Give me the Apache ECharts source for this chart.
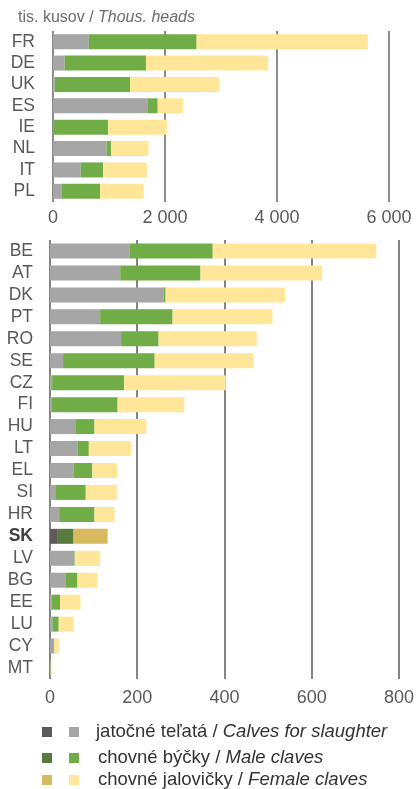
<!DOCTYPE html>
<html>
<head>
<meta charset="utf-8">
<script src="https://cdn.jsdelivr.net/npm/echarts@6/dist/echarts.min.js"></script>
<style>
  html, body { margin: 0; padding: 0; background: #fff; }
  #chart { width: 417px; height: 789px; }
</style>
</head>
<body>
<div id="chart"></div>
<script>
// horní panel (tis. kusov)
var countriesTop = ['FR', 'DE', 'UK', 'ES', 'IE', 'NL', 'IT', 'PL'];
var slaughterTop = [640, 210, 30, 1695, 12, 955, 495, 160];
var maleTop = [1925, 1450, 1345, 175, 970, 80, 400, 680];
var femaleTop = [3055, 2180, 1595, 450, 1050, 670, 785, 780];
var ticksTop = [0, 2000, 4000, 6000];

// dolný panel
var countriesBottom = ['BE', 'AT', 'DK', 'PT', 'RO', 'SE', 'CZ', 'FI', 'HU', 'LT',
  'EL', 'SI', 'HR', 'SK', 'LV', 'BG', 'EE', 'LU', 'CY', 'MT'];
var slaughterBottom = [183, 161, 260, 115, 163, 30, 5, 3, 58, 64, 54, 12, 21, 18, 56, 35, 4, 6, 9, 0.5];
var maleBottom = [190, 184, 5, 166, 86, 210, 165, 152, 44, 25, 43, 70, 81, 36, 1, 28, 19, 14, 1, 1];
var femaleBottom = [375, 279, 274, 229, 225, 227, 233, 153, 119, 97, 57, 71, 46, 78, 58, 46, 47, 34, 11, 2];
var ticksBottom = [0, 200, 400, 600, 800];

var legendNames = [
  ['jatočné teľatá / ', 'Calves for slaughter'],
  ['chovné býčky / ', 'Male claves'],
  ['chovné jalovičky / ', 'Female claves']
];

var colorsLight = ['#a6a6a6', '#70ad47', '#ffe699'];
var colorsDark = ['#5f5a5a', '#567d3e', '#d7b95e'];
var highlight = 'SK';
var font = '"Liberation Sans", Arial, sans-serif';

function fmt(v) {
  return String(v).replace(/\B(?=(\d{3})+(?!\d))/g, ' ');
}

function seriesData(values, cats, idx) {
  return values.map(function (v, i) {
    if (cats[i] === highlight) {
      return { value: v, itemStyle: { color: colorsDark[idx] } };
    }
    return v;
  });
}

var myChart = echarts.init(document.getElementById('chart'));

var series = [];
[slaughterTop, maleTop, femaleTop].forEach(function (arr, k) {
  series.push({
    type: 'bar', stack: 'top', xAxisIndex: 0, yAxisIndex: 0,
    barWidth: 15, itemStyle: { color: colorsLight[k] },
    data: seriesData(arr, countriesTop, k)
  });
});
[slaughterBottom, maleBottom, femaleBottom].forEach(function (arr, k) {
  series.push({
    type: 'bar', stack: 'bottom', xAxisIndex: 1, yAxisIndex: 1,
    barWidth: 15, itemStyle: { color: colorsLight[k] },
    data: seriesData(arr, countriesBottom, k)
  });
});

var legendGraphic = [];
legendNames.forEach(function (n, i) {
  var y = [732, 758, 780][i];
  legendGraphic.push({ type: 'rect', shape: { x: 42, y: y - 5, width: 10, height: 10 }, style: { fill: colorsDark[i] } });
  legendGraphic.push({ type: 'rect', shape: { x: 69, y: y - 5, width: 10, height: 10 }, style: { fill: colorsLight[i] } });
  legendGraphic.push({
    type: 'text', x: i === 0 ? 96 : 98, y: y,
    style: {
      text: '{a|' + n[0] + '}{b|' + n[1] + '}',
      verticalAlign: 'middle',
      rich: {
        a: { fontFamily: font, fontSize: 18.5, fill: '#333' },
        b: { fontFamily: font, fontSize: 18.5, fill: '#333', fontStyle: 'italic' }
      }
    }
  });
});

function yLabel(v) {
  return v === highlight ? '{b|' + v + '}' : v;
}

var option = {
  animation: false,
  title: {
    text: '{a|tis. kusov / }{b|Thous. heads}',
    left: 13, top: 5,
    textStyle: {
      fontWeight: 'normal',
      rich: {
        a: { fontFamily: font, fontSize: 16, fontWeight: 'normal', color: '#6e6e6e' },
        b: { fontFamily: font, fontSize: 16, fontWeight: 'normal', color: '#6e6e6e', fontStyle: 'italic' }
      }
    }
  },
  grid: [
    { left: 53, right: 28, top: 31, height: 171 },
    { left: 50, right: 17, top: 240, height: 439 }
  ],
  xAxis: [
    {
      gridIndex: 0, type: 'value', min: 0, max: 6000, interval: 2000,
      axisLine: { show: false }, axisTick: { show: false },
      splitLine: { show: true, lineStyle: { color: '#8c8c8c', width: 2 } },
      axisLabel: {
        margin: 7, fontFamily: font, fontSize: 18, color: '#595959',
        formatter: function (v) { return ticksTop.indexOf(v) >= 0 ? fmt(v) : ''; }
      }
    },
    {
      gridIndex: 1, type: 'value', min: 0, max: 800, interval: 200,
      axisLine: { show: false }, axisTick: { show: false },
      splitLine: { show: true, lineStyle: { color: '#5a5a5a', width: 1.5 } },
      axisLabel: {
        margin: 10, fontFamily: font, fontSize: 18, color: '#595959',
        formatter: function (v) { return ticksBottom.indexOf(v) >= 0 ? fmt(v) : ''; }
      }
    }
  ],
  yAxis: [
    {
      gridIndex: 0, type: 'category', data: countriesTop, inverse: true,
      axisLine: { show: false }, axisTick: { show: false },
      axisLabel: { interval: 0, margin: 18, fontFamily: font, fontSize: 17.5, color: '#595959' }
    },
    {
      gridIndex: 1, type: 'category', data: countriesBottom, inverse: true,
      axisLine: { show: false }, axisTick: { show: false },
      axisLabel: {
        interval: 0, margin: 17, fontFamily: font, fontSize: 17.5, color: '#595959',
        formatter: yLabel,
        rich: { b: { fontFamily: font, fontSize: 17.5, fontWeight: 'bold', color: '#404040' } }
      }
    }
  ],
  series: series,
  graphic: legendGraphic
};

myChart.setOption(option);
window.addEventListener('resize', function () { myChart.resize(); });
</script>
</body>
</html>
